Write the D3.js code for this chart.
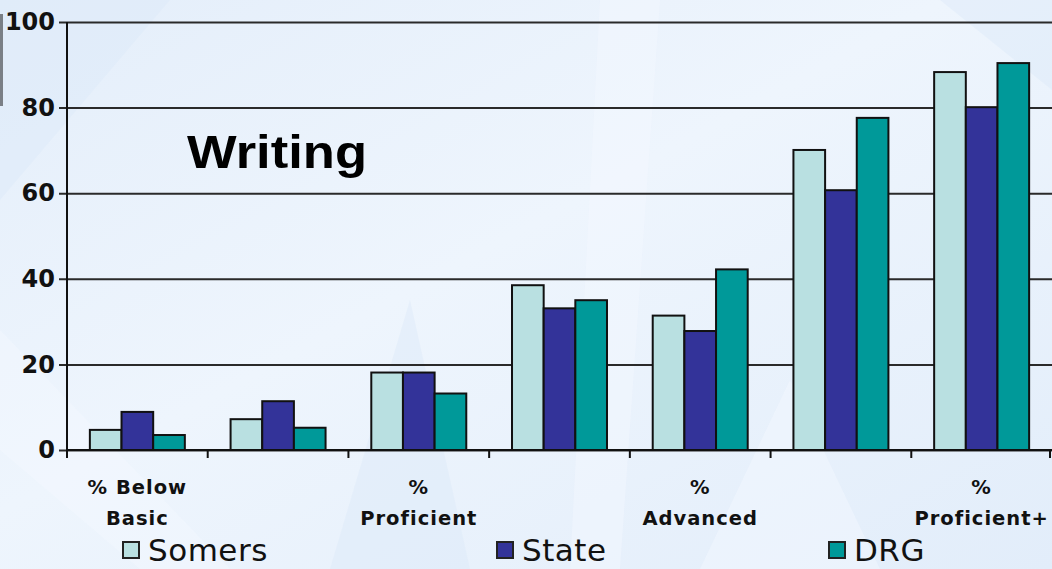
<!DOCTYPE html>
<html><head><meta charset="utf-8">
<script src="https://cdn.jsdelivr.net/npm/d3@7"></script>
<style>html,body{margin:0;padding:0;overflow:hidden;background:#eaf2fc}</style>
</head><body>
<svg id="c" width="1052" height="569"></svg>
<script>
const categories = ["% Below Basic", "% Basic", "% Proficient", "% Goal", "% Advanced", "% Goal+", "% Proficient+"];
const tickLabels = [["% Below","Basic"], [], ["%","Proficient"], [], ["%","Advanced"], [], ["%","Proficient+"]];
const seriesNames = ["Somers", "State", "DRG"];
const somers = [4.7, 7.2, 18.1, 38.5, 31.4, 70.1, 88.3];
const state  = [8.9, 11.4, 18.1, 33.1, 27.8, 60.7, 80.1];
const drg    = [3.5, 5.2, 13.2, 35.0, 42.2, 77.6, 90.4];
const yTicks = [0, 20, 40, 60, 80, 100];
const title = "Writing";
const colors = ["#b9e0e1", "#333399", "#009999"];

const svg = d3.select("#c");
const W = 1052, H = 569;
const m = {left: 67, right: 0, top: 22, bottom: 119};

// background
const defs = svg.append("defs");
const g1 = defs.append("linearGradient").attr("id","bg").attr("x1","0").attr("y1","0").attr("x2","1").attr("y2","1");
g1.append("stop").attr("offset","0").attr("stop-color","#e4eefa");
g1.append("stop").attr("offset","0.45").attr("stop-color","#eef5fd");
g1.append("stop").attr("offset","1").attr("stop-color","#e2edfa");
svg.append("rect").attr("width",W).attr("height",H).attr("fill","url(#bg)");
const streaks = [
  [[0,330],[230,569],[140,569],[0,450]],
  [[330,569],[410,300],[470,569]],
  [[600,0],[660,0],[620,569],[570,569]],
  [[940,0],[1052,0],[1052,90]],
  [[700,569],[790,380],[880,569]],
  [[0,0],[170,0],[0,200]]
];
svg.append("g").selectAll("path").data(streaks).join("path")
  .attr("d", d => "M" + d.map(p => p.join(",")).join("L") + "Z")
  .attr("fill", (d,i) => i % 2 ? "#dce9f8" : "#f4f9ff").attr("opacity", 0.45);
svg.append("rect").attr("x",0).attr("y",14).attr("width",3).attr("height",92).attr("fill","#7a7f86");

const x0 = d3.scaleBand().domain(d3.range(categories.length)).range([m.left, W - m.right])
  .paddingInner(0.325).paddingOuter(0.1625);
const x1 = d3.scaleBand().domain(seriesNames).range([0, x0.bandwidth()]);
const y = d3.scaleLinear().domain([0, 100]).range([H - m.bottom, m.top]);

// grid + y axis
const yAxis = svg.append("g").attr("transform", `translate(${m.left},0)`)
  .call(d3.axisLeft(y).tickValues(yTicks).tickSize(-(W - m.left - m.right)).tickPadding(12).tickFormat(d3.format("d")));
yAxis.select(".domain").remove();
yAxis.selectAll(".tick line").attr("stroke","#2a2a2a").attr("stroke-width",2).attr("x1",-8);
yAxis.selectAll(".tick text").attr("fill","#111").style("font-family","DejaVu Sans").style("font-weight","bold").style("font-size","24px");
svg.append("line").attr("x1",m.left).attr("x2",m.left).attr("y1",y(100)).attr("y2",y(0)).attr("stroke","#111").attr("stroke-width",2);

// bars
const data = categories.map((c,i) => ({i, vals: [somers[i], state[i], drg[i]]}));
svg.append("g").selectAll("g").data(data).join("g")
  .attr("transform", d => `translate(${x0(d.i)},0)`)
  .selectAll("rect").data(d => d.vals.map((v,k) => ({k, v})))
  .join("rect")
  .attr("x", d => x1(seriesNames[d.k]))
  .attr("width", x1.bandwidth())
  .attr("y", d => y(d.v))
  .attr("height", d => y(0) - y(d.v))
  .attr("fill", d => colors[d.k])
  .attr("stroke", "#111").attr("stroke-width", 2);

// x axis
const step = x0.step();
const bounds = d3.range(categories.length + 1).map(i => m.left + i * step);
svg.append("line").attr("x1",m.left).attr("x2",W).attr("y1",y(0)).attr("y2",y(0)).attr("stroke","#111").attr("stroke-width",2);
svg.append("g").selectAll("line").data(bounds).join("line")
  .attr("x1", d => Math.min(d, W-2)).attr("x2", d => Math.min(d, W-2)).attr("y1", y(0)).attr("y2", y(0)+8)
  .attr("stroke","#111").attr("stroke-width",2);
const lab = svg.append("g").selectAll("text").data(tickLabels).join("text")
  .attr("x", (d,i) => x0(i) + x0.bandwidth()/2)
  .attr("text-anchor","middle")
  .style("font-family","DejaVu Sans").style("font-weight","bold").style("font-size","19.5px").style("letter-spacing","1px")
  .attr("fill","#111");
lab.selectAll("tspan").data(d => d).join("tspan")
  .attr("x", function(){ return this.parentNode.getAttribute("x"); })
  .attr("y", (d,j) => 494 + j*31)
  .text(d => d);

// title
svg.append("text").attr("x",187).attr("y",168).text(title)
  .style("font-family","Liberation Sans").style("font-weight","bold").style("font-size","47px")
  .attr("textLength",180).attr("lengthAdjust","spacingAndGlyphs").attr("fill","#000");

// legend
const legX = [122, 496, 828];
const leg = svg.append("g").selectAll("g").data(seriesNames).join("g")
  .attr("transform", (d,i) => `translate(${legX[i]},541)`);
leg.append("rect").attr("x",1).attr("y",1).attr("width",16).attr("height",16)
  .attr("fill",(d,i) => colors[i]).attr("stroke","#222").attr("stroke-width",2);
leg.append("text").attr("x",26).attr("y",20).text(d => d)
  .style("font-family","DejaVu Sans").style("font-size","31px").style("letter-spacing","0.5px").attr("fill","#111");
</script>
</body></html>
